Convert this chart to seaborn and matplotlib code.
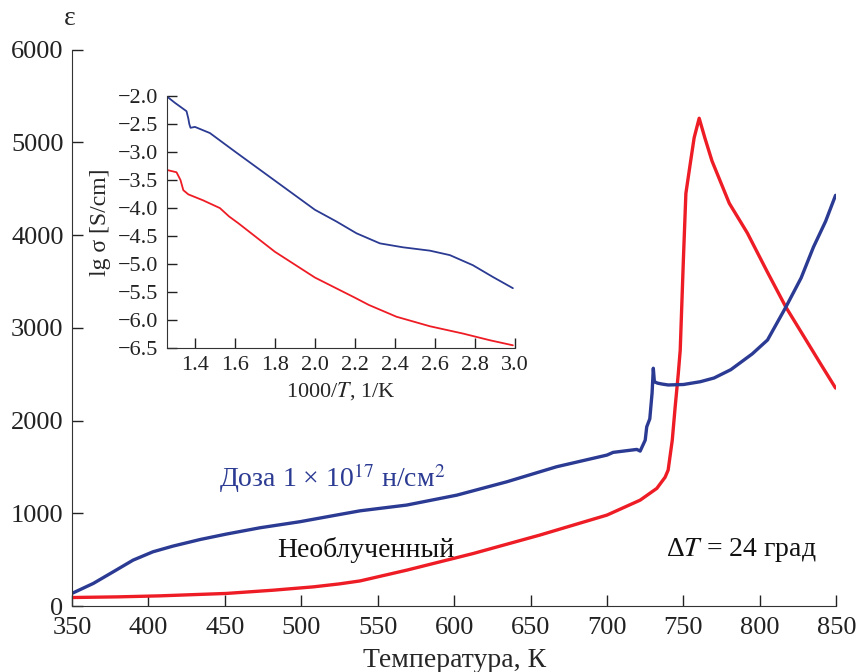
import numpy as np
import pandas as pd
import matplotlib
matplotlib.use("Agg")
import matplotlib.pyplot as plt
import seaborn as sns

# ---- main plot data: permittivity vs temperature ----
dose_T = [350, 364, 377, 390, 403, 416, 434, 451, 473, 499, 523, 538.5, 569, 601.8,
          634.5, 667, 700, 704, 719.5, 721.7, 725, 726, 728, 729.5, 730.3, 731, 733,
          736, 740, 750, 761, 770, 781, 795, 805, 817, 827, 835, 843, 849.5]
dose_eps = [137, 245, 370, 496, 586, 647, 719, 777, 845, 910, 982, 1028, 1090, 1197,
            1341, 1503, 1629, 1658, 1690, 1672, 1790, 1934, 2020, 2300, 2565, 2420,
            2405, 2395, 2385, 2390, 2420, 2460, 2550, 2720, 2870, 3225, 3540, 3870,
            4150, 4430]

raw_T = [350, 380, 407.6, 451, 481.7, 508, 525, 538.5, 569, 600, 612.6, 656, 700,
         721.7, 732.6, 738, 740, 742.7, 744.6, 746.6, 747.9, 750, 751.6, 754.5, 757,
         760.3, 764, 768.7, 780, 791.8, 805, 817, 830, 840, 849.5]
raw_eps = [93, 100, 111, 137, 172, 208, 240, 272, 388, 516, 568, 766, 982, 1143,
           1270, 1390, 1467, 1790, 2150, 2500, 2760, 3750, 4450, 4775, 5050, 5261,
           5050, 4800, 4344, 4024, 3600, 3225, 2875, 2605, 2352]

# ---- inset data: lg sigma vs 1000/T ----
ins_dose_x = [1.261, 1.30, 1.358, 1.367, 1.372, 1.378, 1.40, 1.475, 1.60, 1.80, 2.0,
              2.108, 2.208, 2.325, 2.44, 2.575, 2.675, 2.79, 2.89, 2.99]
ins_dose_y = [-2.01, -2.12, -2.27, -2.40, -2.50, -2.566, -2.55, -2.66, -2.99, -3.51,
              -4.03, -4.24, -4.45, -4.63, -4.70, -4.76, -4.84, -5.02, -5.23, -5.43]
ins_raw_x = [1.261, 1.308, 1.328, 1.342, 1.367, 1.44, 1.525, 1.571, 1.617, 1.80, 2.0,
             2.2, 2.27, 2.408, 2.575, 2.74, 2.875, 2.99]
ins_raw_y = [-3.32, -3.36, -3.50, -3.68, -3.755, -3.86, -4.0, -4.15, -4.27, -4.78,
             -5.24, -5.60, -5.73, -5.94, -6.11, -6.24, -6.36, -6.45]

x_ticks = [350, 400, 450, 500, 550, 600, 650, 700, 750, 800, 850]
y_ticks = [0, 1000, 2000, 3000, 4000, 5000, 6000]
ins_x_ticks = [1.4, 1.6, 1.8, 2.0, 2.2, 2.4, 2.6, 2.8, 3.0]
ins_y_ticks = [-2.0, -2.5, -3.0, -3.5, -4.0, -4.5, -5.0, -5.5, -6.0, -6.5]

BLUE = "#2B3A92"
RED = "#EE1C25"

sns.set_style("ticks")
plt.rcParams["font.family"] = ["Liberation Serif", "DejaVu Serif"]
plt.rcParams["mathtext.fontset"] = "stix"
plt.rcParams["axes.unicode_minus"] = True

fig = plt.figure(figsize=(8.56, 6.72), dpi=100)
ax = fig.add_axes([0.084, 0.098, 0.893, 0.828])

df_dose = pd.DataFrame({"T": dose_T, "eps": dose_eps})
df_raw = pd.DataFrame({"T": raw_T, "eps": raw_eps})
sns.lineplot(data=df_raw, x="T", y="eps", ax=ax, color=RED, lw=2.4, sort=False)
sns.lineplot(data=df_dose, x="T", y="eps", ax=ax, color=BLUE, lw=2.4, sort=False)

ax.set_xlim(350, 850)
ax.set_ylim(0, 6000)
ax.set_xticks(x_ticks)
ax.set_yticks(y_ticks)
ax.tick_params(direction="in", length=8, width=1, labelsize=19, colors="#222222")
ax.tick_params(axis="x", pad=8)
ax.tick_params(axis="y", pad=6)
for s in ["top", "right"]:
    ax.spines[s].set_visible(False)
for s in ["left", "bottom"]:
    ax.spines[s].set_color("#333333")
ax.set_xlabel("Температура, К", fontsize=20, labelpad=6)
ax.set_ylabel("")
fig.text(0.082, 0.972, "ε", fontsize=20, ha="center", va="center")

ax.text(520, 1381, "Доза 1 × 10$^{17}$ н/см$^{2}$", color=BLUE, fontsize=20,
        ha="center", va="center")
ax.text(542, 604, "Необлученный", color="#111111", fontsize=20, ha="center", va="center")
ax.text(788, 604, "Δ$\\mathit{T}$ = 24 град", color="#111111", fontsize=20,
        ha="center", va="center")

# inset
ins = fig.add_axes([0.195, 0.482, 0.4065, 0.375])
df_id = pd.DataFrame({"x": ins_dose_x, "y": ins_dose_y})
df_ir = pd.DataFrame({"x": ins_raw_x, "y": ins_raw_y})
sns.lineplot(data=df_id, x="x", y="y", ax=ins, color=BLUE, lw=1.3, sort=False)
sns.lineplot(data=df_ir, x="x", y="y", ax=ins, color=RED, lw=1.3, sort=False)
ins.set_xlim(1.26, 3.0)
ins.set_ylim(-6.5, -2.0)
ins.set_xticks(ins_x_ticks)
ins.set_yticks(ins_y_ticks)
ins.set_xticklabels([f"{v:.1f}" for v in ins_x_ticks])
ins.set_yticklabels([f"{v:.1f}".replace("-", "−") for v in ins_y_ticks])
ins.tick_params(direction="in", length=7, width=1, labelsize=16, colors="#222222")
ins.tick_params(axis="x", pad=6)
ins.tick_params(axis="y", pad=6)
ins.patch.set_alpha(0)
for s in ["top", "right"]:
    ins.spines[s].set_visible(False)
for s in ["left", "bottom"]:
    ins.spines[s].set_color("#333333")
ins.set_xlabel("1000/$\\mathit{T}$, 1/K", fontsize=16, labelpad=3)
ins.set_ylabel("lg σ [S/cm]", fontsize=17, labelpad=5)

fig.savefig("out.png", dpi=100)
